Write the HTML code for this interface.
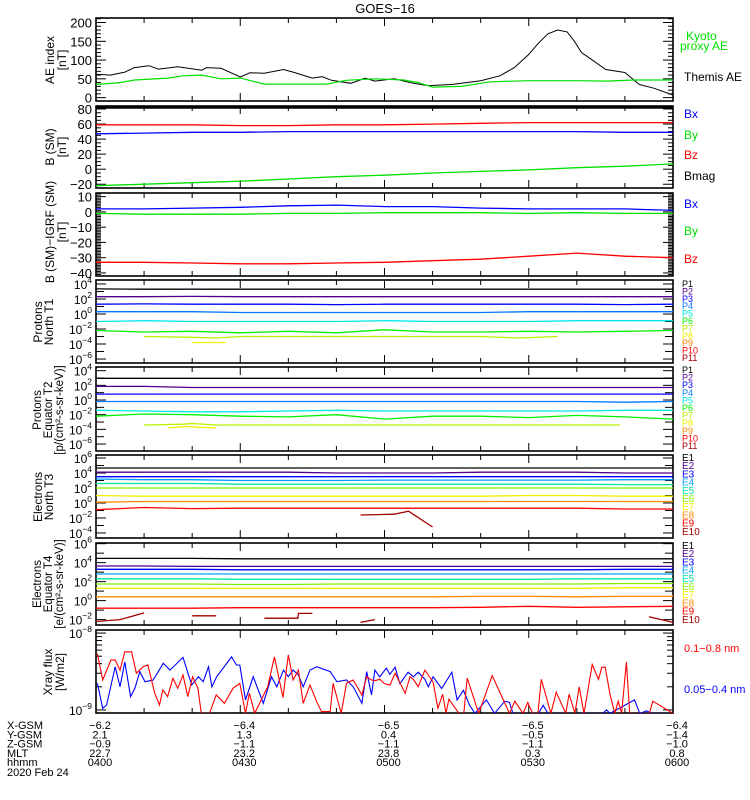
<!DOCTYPE html>
<html><head><meta charset="utf-8"><style>
html,body{margin:0;padding:0;background:#fff;}
svg{display:block;font-family:"Liberation Sans",sans-serif;}
</style></head><body>
<svg id="chart" width="750" height="800" viewBox="0 0 750 800" xmlns="http://www.w3.org/2000/svg">
<rect width="750" height="800" fill="#fff"/>
<text x="385" y="13" font-size="13" text-anchor="middle">GOES−16</text>
</svg>
<script>
// ---------- DATA ----------
const T13=[0,10,20,30,40,50,60,70,80,90,100,110,120];
// Panel 1: AE index
const aeThemisTimes=[0,3,6,8,11,13,17,22,23,26,30,32,35,39,41,45,47,49,53,56,58,62,66,69,74,80,84,87,90,92,94,96,98,99.5,101,103,106,110,113,116,120];
const aeThemis=[62,60,68,80,85,76,82,73,80,78,55,66,65,75,68,52,56,46,38,52,44,50,38,32,35,45,58,80,115,145,170,180,175,150,120,102,75,67,35,25,7];
const aeKyotoTimes=[0,5,8,15,18,22,26,30,35,48,52,58,64,67,70,76,82,90,100,106,112,120];
const aeKyoto=[35,40,47,52,58,60,50,52,36,36,46,50,47,40,28,30,42,45,45,44,47,47];
// Panel 2: B (SM)
const bBmag=[82,82,82,82,82,82,82,82,82,82,82,82,82];
const bBx=[47,48,49,49,50,50,50,50,50,50,50,49,49];
const bBy=[-22,-20,-18,-16,-13,-10,-8,-5,-3,-1,2,4,7];
const bBz=[59,59,59,58,58,59,59,60,61,62,62,62,62];
// Panel 3: B - IGRF
const dBx=[2,2,2.5,3,4,4.5,3.5,3.5,2.5,2,2,2,1];
const dBy=[-1,-1.5,-1.5,-1.5,-1,-1,-0.5,-0.5,-0.5,-1,-0.5,-1,-1];
const dBz=[-33,-33,-33.5,-34,-34,-33.5,-33,-32,-31,-29,-27,-29,-30];
// Panel 4: Protons North T1 (log10 flux)
const pn1=[3.35,3.3,3.3,3.3,3.3,3.3,3.3,3.3,3.3,3.3,3.3,3.3,3.3];
const pn2=[2.3,2.3,2.35,2.3,2.3,2.3,2.3,2.3,2.3,2.3,2.3,2.3,2.3];
const pn3=[1.3,1.35,1.3,1.3,1.3,1.25,1.3,1.3,1.3,1.3,1.3,1.25,1.3];
const pn4=[0.3,0.3,0.3,0.2,0.2,0.2,0.2,0.2,0.2,0.3,0.3,0.3,0.3];
const pn5=[-1.0,-0.9,-1.0,-1.0,-1.0,-1.0,-0.9,-1.0,-1.0,-1.0,-0.9,-0.9,-0.9];
const pn6=[-2.2,-2.4,-2.3,-2.5,-2.3,-2.5,-2.1,-2.4,-2.4,-2.3,-2.4,-2.3,-2.2];
const pn7Times=[10,20,25,30,80,88,96];
const pn7=[-3.0,-3.1,-3.2,-3.0,-3.0,-3.2,-3.0];
const pn8Times=[20,27];
const pn8=[-3.8,-3.8];
// Panel 5: Protons Equator T2
const pe1=[2.96,2.96,2.96,2.96,2.96,2.96,2.96,2.96,2.96,2.96,2.96,2.96,2.96];
const pe2=[1.85,1.85,1.7,1.7,1.7,1.7,1.7,1.7,1.7,1.7,1.7,1.7,1.7];
const pe3=[0.8,0.8,0.8,0.8,0.8,0.8,0.8,0.8,0.8,0.8,0.8,0.8,0.8];
const pe4=[-0.2,-0.2,-0.2,-0.2,-0.2,-0.2,-0.2,-0.2,-0.2,-0.2,-0.2,-0.3,-0.2];
const pe5=[-1.4,-1.5,-1.6,-1.6,-1.5,-1.4,-1.5,-1.5,-1.5,-1.5,-1.5,-1.4,-1.4];
const pe6=[-2.2,-1.9,-2.0,-2.2,-2.3,-2.0,-2.6,-2.2,-2.2,-2.4,-2.1,-2.3,-2.6];
const pe7Times=[10,18,20,25,35,55,100,109];
const pe7=[-3.4,-3.3,-3.2,-3.4,-3.4,-3.4,-3.4,-3.4];
const pe8Times=[15,19,21,25];
const pe8=[-3.8,-3.6,-3.7,-3.8];
// Panel 6: Electrons North T3
const en1=[4.67,4.67,4.67,4.67,4.67,4.67,4.67,4.67,4.67,4.67,4.67,4.67,4.67];
const en2=[4.1,4.1,4.1,4.1,4.1,4.0,4.0,4.0,4.1,4.1,4.1,4.0,4.0];
const en3=[3.5,3.5,3.5,3.5,3.5,3.5,3.5,3.5,3.5,3.5,3.5,3.5,3.5];
const en4=[3.2,3.1,3.1,3.0,3.0,3.0,3.05,3.05,3.05,3.05,3.05,3.1,3.1];
const en5=[2.6,2.6,2.6,2.5,2.5,2.5,2.5,2.5,2.5,2.5,2.5,2.45,2.45];
const en6=[2.0,2.0,2.0,2.0,2.0,2.0,2.0,2.0,2.0,2.0,2.0,2.0,2.0];
const en7=[1.0,0.9,0.9,0.9,0.9,0.9,0.9,0.9,0.9,1.0,1.0,0.9,0.9];
const en8=[0.1,0.2,0.2,0.2,0.2,0.2,0.2,0.2,0.2,0.2,0.2,0.2,0.2];
const en9=[-0.9,-0.6,-0.75,-0.7,-0.7,-0.7,-0.7,-0.7,-0.7,-0.7,-0.7,-0.8,-0.8];
const en10Times=[55,62,65,70];
const en10=[-1.6,-1.5,-1.1,-3.2];
// Panel 7: Electrons Equator T4
const ee1=[4.45,4.45,4.45,4.4,4.4,4.4,4.4,4.4,4.4,4.4,4.4,4.4,4.4];
const ee2=[3.65,3.65,3.6,3.6,3.6,3.6,3.6,3.6,3.6,3.6,3.6,3.6,3.6];
const ee3=[3.3,3.3,3.3,3.25,3.25,3.25,3.25,3.25,3.25,3.25,3.25,3.3,3.3];
const ee4=[2.8,2.8,2.8,2.8,2.8,2.8,2.8,2.8,2.8,2.8,2.8,2.8,2.8];
const ee5=[2.3,2.3,2.3,2.25,2.25,2.25,2.25,2.25,2.25,2.25,2.3,2.3,2.3];
const ee6=[1.75,1.75,1.75,1.7,1.7,1.75,1.75,1.75,1.75,1.75,1.75,1.8,1.8];
const ee7=[1.3,1.3,1.3,1.3,1.3,1.3,1.3,1.3,1.3,1.3,1.3,1.35,1.35];
const ee8=[0.4,0.4,0.4,0.4,0.4,0.4,0.4,0.4,0.45,0.45,0.4,0.45,0.45];
const ee9=[-0.8,-0.8,-0.8,-0.75,-0.75,-0.75,-0.75,-0.75,-0.7,-0.6,-0.7,-0.65,-0.6];
const ee10Times=[0,5,10,null,20,25,null,35,42,42.1,45,null,55,58,null,115,120];
const ee10=[-2.2,-2.0,-1.3,null,-1.6,-1.6,null,-1.85,-1.85,-1.35,-1.35,null,-2.3,-2.0,null,-1.7,-2.3];
// Panel 8: X-ray flux (units of 1e-9 W/m2)
const xrayLongTimes=[0.3,1.4,3.1,4.0,5.0,6.0,7.4,8.4,9.8,10.8,12.2,13.2,13.9,14.9,16.0,17.0,18.1,19.1,20.1,21.2,21.9,23.6,25.0,26.7,28.5,29.9,31.1,31.9,33.0,34.7,35.7,37.1,38.2,38.9,40.0,41.0,42.1,43.1,44.5,45.9,46.9,48.7,49.3,51.0,52.1,53.5,55.3,56.3,57.3,58.0,59.0,60.0,61.1,62.2,64.3,65.3,66.0,67.0,68.4,70.1,71.1,72.1,72.8,73.4,75.5,76.5,77.2,79.6,82.4,86.0,87.1,88.8,89.8,90.8,91.9,92.6,94.6,95.7,97.7,98.4,99.6,100.5,101.5,103.2,104.5,105.2,105.9,106.9,107.9,108.6,109.3,110.3,111.0,115.1,115.8,120];
const xrayLong=[5.4,2.45,4.45,4.45,3.3,5.7,5.7,3.0,3.65,3.85,1.65,1.16,1.82,1.49,2.58,1.91,2.85,1.49,2.7,1.91,0.9,0.9,1.57,1.22,1.91,2.22,0.9,1.65,0.9,1.49,2.0,4.9,2.33,1.45,5.2,2.45,3.3,1.22,2.11,1.28,0.95,0.95,2.22,0.9,2.22,2.45,1.57,2.71,2.45,2.4,2.5,2.2,2.1,3.0,1.65,2.7,2.5,2.0,3.3,2.3,1.05,1.6,0.9,1.38,0.9,0.9,2.6,0.9,2.8,0.9,1.3,0.9,1.25,0.9,0.9,2.5,0.9,1.7,0.9,1.6,0.9,2.0,0.9,3.9,2.5,3.6,3.6,1.6,0.9,1.3,0.9,4.2,0.9,0.9,1.3,0.9];
const xrayShortTimes=[0.3,1.4,2.2,4.0,5.0,6.0,7.2,8.1,9.1,10.2,11.9,14.0,15.4,18.1,19.9,21.3,22.3,23.4,24.1,25.1,28.2,29.2,29.9,31.1,32.7,34.8,36.5,37.6,39.0,40.0,41.0,42.1,43.1,44.5,45.9,48.7,50.1,52.1,53.5,55.3,56.3,57.3,58.0,59.0,60.4,61.1,62.2,63.2,64.9,66.0,67.0,68.4,69.1,70.1,71.9,74.0,75.1,76.4,77.7,78.8,81.2,82.9,85.0,86.0,86.7,92.0,93.0,94.0,105.4,106.2,106.9,112.0,113.1,114.5,115.5,120];
const xrayShort=[2.22,1.05,1.16,3.65,2.0,4.2,1.49,1.91,3.15,2.33,2.45,4.04,3.3,4.83,2.11,2.71,2.33,3.65,2.0,2.71,4.9,3.84,3.84,1.35,2.71,1.22,2.71,2.0,3.3,2.71,3.3,2.85,2.0,3.3,3.65,3.15,2.33,2.45,2.0,1.22,3.15,1.57,3.3,2.7,3.5,2.9,3.6,2.2,3.1,2.7,3.1,2.5,2.0,2.7,1.9,3.1,1.35,1.8,1.15,0.9,1.35,0.9,1.3,1.25,0.9,0.9,1.15,0.9,0.9,1.0,0.9,1.35,0.9,0.97,0.9,0.9];
// Ephemeris rows
const ephemLabels=["X-GSM","Y-GSM","Z-GSM","MLT","hhmm"];
const ephemX=["−6.2","−6.4","−6.5","−6.5","−6.4"];
const ephemY=["2.1","1.3","0.4","−0.5","−1.4"];
const ephemZ=["−0.9","−1.1","−1.1","−1.1","−1.0"];
const ephemMLT=["22.7","23.2","23.8","0.3","0.8"];
const ephemHHMM=["0400","0430","0500","0530","0600"];

// ---------- RENDER ----------
const NS="http://www.w3.org/2000/svg";
const svg=document.getElementById('chart');
const L=96,R=673;
function tx(t){return L+(R-L)*t/120;}
function mk(tag,attrs,parent){const e=document.createElementNS(NS,tag);for(const k in attrs)e.setAttribute(k,attrs[k]);(parent||svg).appendChild(e);return e;}

const panels=[
 {top:18,bot:101,min:-9,max:212,log:false},
 {top:106,bot:188,min:-25,max:84,log:false},
 {top:193,bot:276,min:-42,max:12.4,log:false},
 {top:280,bot:363,min:-6.53,max:4.53,log:true},
 {top:367,bot:451,min:-6.95,max:4.5,log:true},
 {top:455,bot:538,min:-4.67,max:6.4,log:true},
 {top:543,bot:625,min:-2.57,max:6.07,log:true},
 {top:630,bot:713,min:-0.04,max:1.04,log:true}
];
function ys(p,v){return p.bot-(p.bot-p.top)*(v-p.min)/(p.max-p.min);}

panels.forEach((p,i)=>{
  const cp=mk('clipPath',{id:'clip'+i});
  mk('rect',{x:L,y:p.top,width:R-L,height:p.bot-p.top},cp);
});

function drawSeries(pi,times,vals,color,name,w,logv){
  const p=panels[pi];let d='';let pen=false;
  for(let k=0;k<vals.length;k++){
    if(vals[k]===null||times[k]===null){pen=false;continue;}
    let v=logv?Math.log10(Math.max(vals[k],0.5)):vals[k];
    const x=tx(times[k]).toFixed(1),y=ys(p,v).toFixed(1);
    d+=(pen?'L':'M')+x+' '+y+' ';pen=true;
  }
  const e=mk('path',{d:d,fill:'none',stroke:color,'stroke-width':w||1.3,'clip-path':'url(#clip'+pi+')'});
  
  
}

function tickLine(x1,y1,x2,y2,w){mk('line',{x1:x1,y1:y1,x2:x2,y2:y2,stroke:'#000','stroke-width':w||1});}
function yLabel(p,v,txt,exp){
  const t=mk('text',{x:92,y:ys(p,v)+5,'font-size':exp!==undefined?12:13,'text-anchor':'end'});
  
  
  if(exp!==undefined){
    t.textContent='10';
    const s=mk('tspan',{'font-size':8.5,dy:-6},t);s.textContent=exp;
  } else t.textContent=txt;
}
const linTicks=[{step:10,major:50,labels:[0,50,100,150,200]},{step:5,major:20,labels:[80,60,40,20,0,-20]},{step:1,major:10,labels:[10,0,-10,-20,-30,-40]}];
panels.forEach((p,i)=>{
  for(let t=0;t<=120;t+=10){
    const len=(t%30===0)?8:5;
    tickLine(tx(t),p.bot,tx(t),p.bot-len);tickLine(tx(t),p.top,tx(t),p.top+len);
  }
  if(i<3){
    const lt=linTicks[i];
    for(let v=Math.ceil(p.min/lt.step)*lt.step;v<=p.max;v+=lt.step){
      const len=(v%lt.major===0)?10:5;const y=ys(p,v);
      tickLine(L,y,L+len,y);tickLine(R,y,R-len,y);
    }
    lt.labels.forEach(v=>yLabel(p,v,String(v).replace('-','−')));
  } else if(i<7){
    for(let e=Math.ceil(p.min);e<=p.max;e++){
      const y=ys(p,e);const len=(e%2===0)?10:8;
      tickLine(L,y,L+len,y);tickLine(R,y,R-len,y);
      if(e%2===0)yLabel(p,e,null,String(e).replace('-','−'));
    }
  } else {
    for(let m=1;m<=10;m++){
      const y=ys(p,Math.log10(m));const len=(m===1||m===10)?10:6;
      tickLine(L,y,L+len,y);tickLine(R,y,R-len,y);
    }
    yLabel(p,1,null,'−8');yLabel(p,0,null,'−9');
  }
  const fr=mk('rect',{x:L,y:p.top,width:R-L,height:p.bot-p.top,fill:'none',stroke:'#000','stroke-width':1.6});
  
  
});

drawSeries(0,aeThemisTimes,aeThemis,'#000','themis-ae-line',1);
drawSeries(0,aeKyotoTimes,aeKyoto,'#00e000','kyoto-ae-line',1.2);
drawSeries(1,T13,bBmag,'#000','bmag-line',2.5);
drawSeries(1,T13,bBx,'#0000ff','bx-line');
drawSeries(1,T13,bBy,'#00e000','by-line');
drawSeries(1,T13,bBz,'#ff0000','bz-line');
drawSeries(2,T13,dBx,'#0000ff','dbx-line');
drawSeries(2,T13,dBy,'#00e000','dby-line');
drawSeries(2,T13,dBz,'#ff0000','dbz-line');
const pCols=['#000','#50008c','#0000ff','#0078ff','#00e8e8','#00f000','#b8f000','#f0f000','#ff8000','#ff0000','#a00000'];
const eCols=['#000','#50008c','#0000ff','#00a0ff','#00e8a0','#80f000','#f0f000','#ff8c00','#ff0000','#a00000'];
[pn1,pn2,pn3,pn4,pn5,pn6].forEach((s,k)=>drawSeries(3,T13,s,pCols[k],'protons-north-p'+(k+1)));
drawSeries(3,pn7Times,pn7,pCols[6],'protons-north-p7');
drawSeries(3,pn8Times,pn8,pCols[7],'protons-north-p8');
[pe1,pe2,pe3,pe4,pe5,pe6].forEach((s,k)=>drawSeries(4,T13,s,pCols[k],'protons-equator-p'+(k+1)));
drawSeries(4,pe7Times,pe7,pCols[6],'protons-equator-p7');
drawSeries(4,pe8Times,pe8,pCols[7],'protons-equator-p8');
[en1,en2,en3,en4,en5,en6,en7,en8,en9].forEach((s,k)=>drawSeries(5,T13,s,eCols[k],'electrons-north-e'+(k+1)));
drawSeries(5,en10Times,en10,eCols[9],'electrons-north-e10');
[ee1,ee2,ee3,ee4,ee5,ee6,ee7,ee8,ee9].forEach((s,k)=>drawSeries(6,T13,s,eCols[k],'electrons-equator-e'+(k+1)));
drawSeries(6,ee10Times,ee10,eCols[9],'electrons-equator-e10');
drawSeries(7,xrayShortTimes,xrayShort,'#0000ff','xray-short-line',1.1,true);
drawSeries(7,xrayLongTimes,xrayLong,'#ff0000','xray-long-line',1.1,true);

function ytitle(cy,lines,xs,name,fs){
  lines.forEach((s,k)=>{
    const t=mk('text',{x:0,y:0,'font-size':fs||12,'text-anchor':'middle',transform:`translate(${xs[k]},${cy}) rotate(-90)`});
    t.textContent=s;
    
    
  });
}
ytitle(60,['AE index','[nT]'],[54,66],'ae-axis-title');
ytitle(147,['B (SM)','[nT]'],[54,66],'b-sm-axis-title');
ytitle(232,['B (SM)−IGRF (SM)','[nT]'],[54,66],'b-igrf-axis-title');
ytitle(322,['Protons','North T1'],[42,53],'protons-north-axis-title');
ytitle(410,['Protons','Equator T2','[p/(cm²-s-sr-keV)]'],[41,52,63],'protons-equator-axis-title',11.5);
ytitle(497,['Electrons','North T3'],[42,53],'electrons-north-axis-title');
ytitle(584,['Electrons','Equator T4','[e/(cm²-s-sr-keV)]'],[41,52,63],'electrons-equator-axis-title',11.5);
ytitle(672,['Xray flux','[W/m2]'],[52,64],'xray-axis-title');

function leg(x,y,txt,col,fs,name){
  const t=mk('text',{x:x,y:y,'font-size':fs,fill:col});t.textContent=txt;
  
  
}
leg(686,40,'Kyoto','#00e000',12,'legend-kyoto');
leg(680,50,'proxy AE','#00e000',12,'legend-kyoto');
leg(684,81,'Themis AE','#000',12,'legend-themis-ae');
leg(684,118,'Bx','#0000ff',12,'legend-bx');leg(684,139,'By','#00e000',12,'legend-by');
leg(684,159,'Bz','#ff0000',12,'legend-bz');leg(684,180,'Bmag','#000',12,'legend-bmag');
leg(684,208,'Bx','#0000ff',12,'legend-dbx');leg(684,235,'By','#00e000',12,'legend-dby');
leg(684,263,'Bz','#ff0000',12,'legend-dbz');
for(let k=0;k<11;k++){leg(682,287+k*7.4,'P'+(k+1),pCols[k],9,'legend-p'+(k+1));}
for(let k=0;k<11;k++){leg(682,373+k*7.6,'P'+(k+1),pCols[k],9,'legend-p'+(k+1));}
for(let k=0;k<10;k++){leg(682,461+k*8.2,'E'+(k+1),eCols[k],10,'legend-e'+(k+1));}
for(let k=0;k<10;k++){leg(682,549+k*8.2,'E'+(k+1),eCols[k],10,'legend-e'+(k+1));}
leg(684,652,'0.1−0.8 nm','#ff0000',11,'legend-xray-long');
leg(684,693,'0.05−0.4 nm','#0000ff',11,'legend-xray-short');

const rows=[ephemX,ephemY,ephemZ,ephemMLT,ephemHHMM];
rows.forEach((r,k)=>{
  const y=729+k*9.3;
  const lab=mk('text',{x:7,y:y,'font-size':11});lab.textContent=ephemLabels[k];
  
  
  r.forEach((v,j)=>{
    const t=mk('text',{x:tx(j*30)+4,y:y,'font-size':11,'text-anchor':'middle'});t.textContent=v;
    
    
  });
});
const dt=mk('text',{x:7,y:776,'font-size':11});dt.textContent='2020 Feb 24';


</script>
</body></html>
